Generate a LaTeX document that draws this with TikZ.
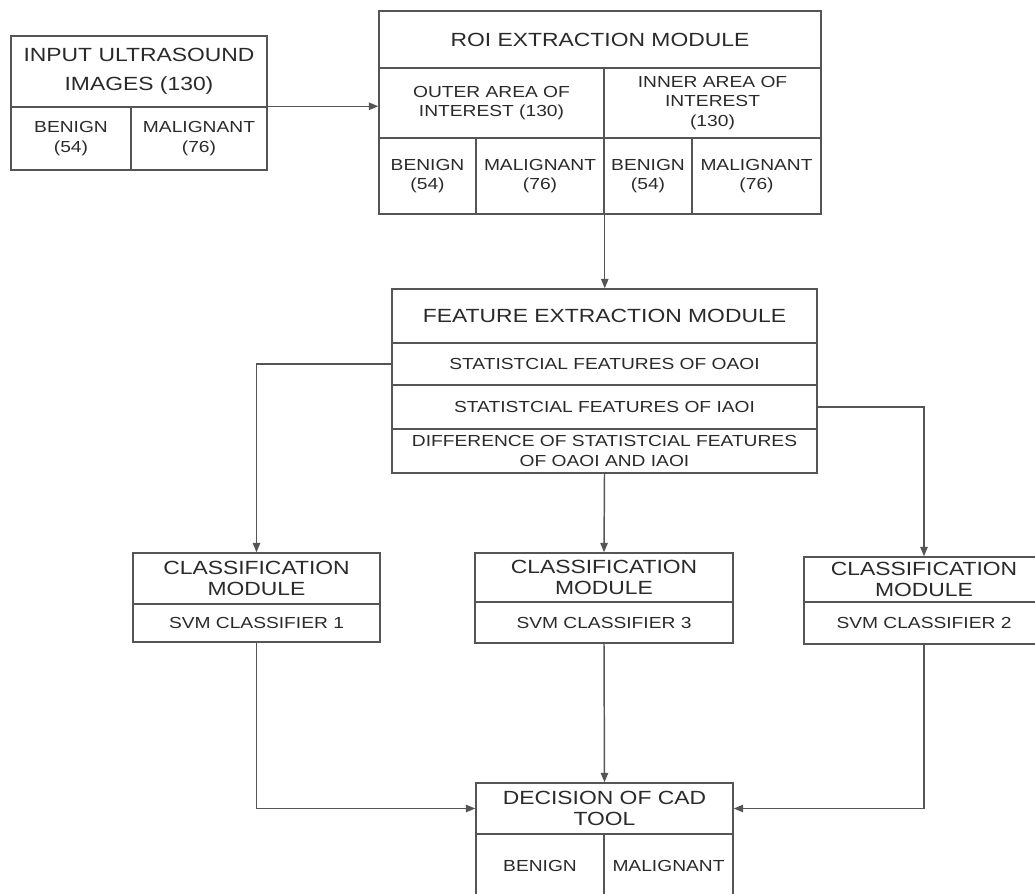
\documentclass[tikz,border=0pt]{standalone}
\usepackage{fontspec}
\setmainfont[FakeStretch=1.2]{Liberation Sans}
\usetikzlibrary{arrows.meta}
\definecolor{ln}{HTML}{555555}
\definecolor{tx}{HTML}{2A2A2A}
\tikzset{
  cellbox/.style={draw=ln, line width=1.1pt, inner sep=0pt, align=center, text=tx,
    font=\fontsize{12}{14.5}\selectfont},
  hdr/.style={font=\fontsize{14.3}{16.3}\selectfont},
  arr/.style={draw=ln, line width=1.1pt, -{Triangle[length=7pt,width=5.5pt]}},
}
\newcommand\mycell[7][]{%
  \node[cellbox,#1,minimum width={(#5-#3)*0.75pt},minimum height={(#6-#4)*0.75pt}]
    (#2) at ({(#3+#5)/2},{(#4+#6)/2}) {#7};}
\begin{document}
\begin{tikzpicture}[x=0.75pt,y=-0.75pt]
\useasboundingbox (0,0) rectangle (1035,893);
\clip (0,0) rectangle (1035,893);
% input
\mycell[font=\fontsize{14.3}{21.75}\selectfont]{inh}{11}{36}{267}{107}{INPUT ULTRASOUND\\IMAGES (130)}
\mycell{inb}{11}{107}{131}{170}{BENIGN\\(54)}
\mycell{inm}{131}{107}{267}{170}{MALIGNANT\\(76)}
% ROI
\mycell[hdr]{roih}{379}{11}{821}{68}{ROI EXTRACTION MODULE}
\mycell{roio}{379}{68}{604}{138}{OUTER AREA OF\\INTEREST (130)}
\mycell{roii}{604}{68}{821}{138}{INNER AREA OF\\INTEREST\\(130)}
\mycell{roiob}{379}{138}{476}{214}{BENIGN\\(54)}
\mycell{roiom}{476}{138}{604}{214}{MALIGNANT\\(76)}
\mycell{roiib}{604}{138}{692}{214}{BENIGN\\(54)}
\mycell{roiim}{692}{138}{821}{214}{MALIGNANT\\(76)}
% feature
\mycell[hdr]{feh}{392}{289}{817}{343}{FEATURE EXTRACTION MODULE}
\mycell{fea}{392}{343}{817}{385}{STATISTCIAL FEATURES OF OAOI}
\mycell{feb}{392}{385}{817}{429}{STATISTCIAL FEATURES OF IAOI}
\mycell{fec}{392}{429}{817}{473}{DIFFERENCE OF STATISTCIAL FEATURES\\OF OAOI AND IAOI}
% classification
\mycell[hdr]{cah}{133}{553}{380}{604}{CLASSIFICATION\\MODULE}
\mycell{cas}{133}{604}{380}{642}{SVM CLASSIFIER 1}
\mycell[hdr]{cch}{475}{553}{733}{602}{CLASSIFICATION\\MODULE}
\mycell{ccs}{475}{602}{733}{643}{SVM CLASSIFIER 3}
\mycell[hdr]{cbh}{804}{557}{1044}{602}{CLASSIFICATION\\MODULE}
\mycell{cbs}{804}{602}{1044}{644}{SVM CLASSIFIER 2}
% decision
\mycell[hdr]{dh}{476}{783}{733}{834}{DECISION OF CAD\\TOOL}
\mycell{db}{476}{834}{604}{897}{BENIGN}
\mycell{dm}{604}{834}{733}{897}{MALIGNANT}
% connectors
\draw[arr] (inm.north east) -- (inm.north east -| roio.west);
\draw[arr] (roiom.south east) -- (roiom.south east |- feh.north);
\draw[arr] (fea.west) -| (cah.north);
\draw[arr] (feb.east) -| (cbh.north);
\draw[arr] (fec.south) -- (cch.north);
\draw[arr] (cas.south) |- (dh.west);
\draw[arr] (ccs.south) -- (dh.north);
\draw[arr] (cbs.south) |- (dh.east);
\end{tikzpicture}
\end{document}
